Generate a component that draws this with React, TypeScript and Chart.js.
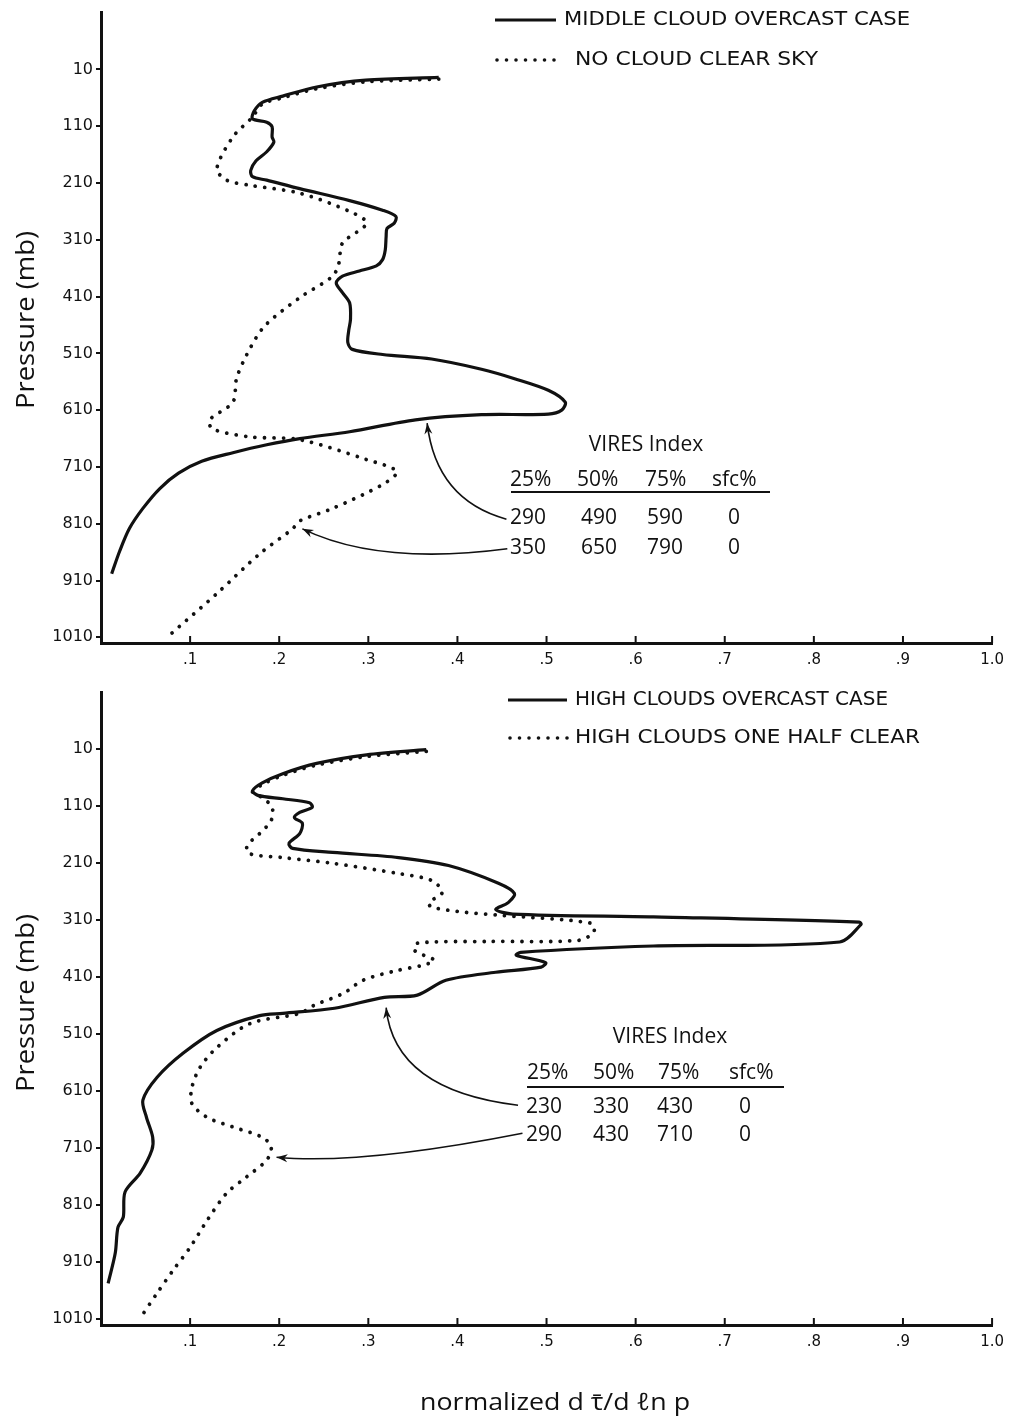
import React, { useEffect, useRef } from "react";
import { Chart, registerables } from "chart.js";
Chart.register(...registerables);

// ---------- data (x = normalized d tau / d ln p, p = pressure in mb) ----------
const pressureTicks = [10, 110, 210, 310, 410, 510, 610, 710, 810, 910, 1010];
const xTickValues = [0, 0.1, 0.2, 0.3, 0.4, 0.5, 0.6, 0.7, 0.8, 0.9, 1.0];

// Top panel – middle cloud overcast case (solid)
const topSolidX = [0.379,0.297,0.242,0.204,0.181,0.172,0.170,0.186,0.192,0.192,0.194,0.186,0.174,0.168,0.170,0.186,0.223,0.279,0.316,0.331,0.329,0.321,0.320,0.319,0.316,0.309,0.290,0.271,0.264,0.271,0.279,0.280,0.278,0.277,0.282,0.316,0.371,0.427,0.465,0.502,0.521,0.517,0.502,0.427,0.353,0.279,0.223,0.186,0.148,0.113,0.087,0.066,0.047,0.032,0.021,0.012];
const topSolidP = [24,29,41,57,68,83,97,103,111,129,138,155,171,188,199,205,220,241,258,269,281,290,304,328,345,356,365,374,386,403,421,450,470,491,503,512,520,538,555,575,596,610,617,618,627,648,660,671,685,700,721,748,783,818,858,898];

// Top panel – no cloud clear sky (dotted)
const topDotX = [0.379,0.297,0.242,0.204,0.181,0.170,0.148,0.130,0.141,0.167,0.223,0.279,0.298,0.271,0.267,0.260,0.223,0.183,0.163,0.152,0.148,0.122,0.125,0.167,0.223,0.298,0.332,0.316,0.260,0.223,0.215,0.178,0.130,0.077];
const topDotP = [27,32,44,60,71,94,129,185,205,214,228,260,281,316,351,374,412,463,514,555,596,627,643,657,662,697,718,741,783,805,819,863,933,1006];

// Bottom panel – high clouds overcast case (solid)
const botSolidX = [0.365,0.298,0.242,0.204,0.181,0.170,0.176,0.204,0.234,0.237,0.223,0.217,0.226,0.223,0.211,0.215,0.260,0.334,0.390,0.446,0.464,0.457,0.443,0.462,0.620,0.851,0.853,0.829,0.620,0.471,0.466,0.499,0.494,0.443,0.387,0.355,0.318,0.262,0.204,0.178,0.130,0.092,0.063,0.047,0.051,0.058,0.057,0.044,0.027,0.025,0.019,0.016,0.008];
const botSolidP = [12,21,36,54,70,84,92,98,105,113,122,131,141,159,176,185,192,201,215,246,264,280,292,300,305,314,318,349,356,367,372,385,393,402,416,442,446,465,474,478,504,544,586,626,656,691,714,754,787,831,849,894,947];

// Bottom panel – high clouds one half clear (dotted)
const botDotX = [0.365,0.298,0.242,0.204,0.181,0.170,0.181,0.192,0.191,0.178,0.164,0.166,0.204,0.260,0.334,0.371,0.383,0.368,0.371,0.409,0.446,0.550,0.553,0.536,0.434,0.355,0.352,0.374,0.360,0.332,0.294,0.272,0.239,0.223,0.167,0.130,0.111,0.102,0.102,0.119,0.148,0.181,0.191,0.186,0.163,0.141,0.119,0.100,0.081,0.063,0.044];
const botDotP = [15,24,39,57,73,87,96,113,136,159,180,194,201,211,229,241,262,280,288,297,302,316,332,346,348,351,364,381,390,399,416,439,460,474,492,534,569,604,632,656,673,691,708,731,761,789,837,884,924,964,1008];

const topLegend = ["MIDDLE CLOUD OVERCAST CASE", "NO CLOUD CLEAR SKY"];
const botLegend = ["HIGH CLOUDS OVERCAST CASE", "HIGH CLOUDS ONE HALF CLEAR"];
const viresTitle = "VIRES Index";
const viresHeader = ["25%", "50%", "75%", "sfc%"];
const topVires = [["290", "490", "590", "0"], ["350", "650", "790", "0"]];
const botVires = [["230", "330", "430", "0"], ["290", "430", "710", "0"]];
const yTitle = "Pressure (mb)";
const xTitle = "normalized d \u03C4\u0304/d \u2113n p";

// ---------- rendering ----------
const INK = "#111";
const zip = (xs: number[], ps: number[]) => xs.map((x, i) => ({ x, y: ps[i] }));

function fitText(ctx: CanvasRenderingContext2D, text: string, x: number, y: number, width: number, font: string, align: CanvasTextAlign = "left", rotate = 0) {
  ctx.save();
  ctx.font = font;
  const w = ctx.measureText(text).width;
  ctx.translate(x, y);
  if (rotate) ctx.rotate(rotate);
  ctx.scale(width / w, 1);
  ctx.textAlign = align;
  ctx.textBaseline = "middle";
  ctx.fillStyle = INK;
  ctx.fillText(text, 0, 0);
  ctx.restore();
}

function plainText(ctx: CanvasRenderingContext2D, text: string, x: number, y: number, font: string, align: CanvasTextAlign = "left") {
  ctx.save();
  ctx.font = font;
  ctx.textAlign = align;
  ctx.textBaseline = "middle";
  ctx.fillStyle = INK;
  ctx.fillText(text, x, y);
  ctx.restore();
}

type Arrow = { from: [number, number]; ctrl: [number, number]; to: [number, number] };

type Spec = {
  height: number;
  top: number;
  bottom: number;
  yMin: number;
  yMax: number;
  solid: { x: number; y: number }[];
  dotted: { x: number; y: number }[];
  legend: string[];
  legY: [number, number];
  legLine: [number, number];
  legTextX: [number, number];
  legTextW: [number, number];
  vires: string[][];
  tbl: { titleX: number; titleY: number; headY: number; cols: number[]; ulX: [number, number]; ulY: number; rowY: [number, number]; rowCols: number[] };
  arrows: Arrow[];
  yTitleY: number;
  xTitleY?: number;
};

const LEG_FONT = '19px "DejaVu Sans"';
const TBL_FONT = '21px "Open Sans"';

function drawArrow(ctx: CanvasRenderingContext2D, chart: any, a: Arrow) {
  const xs = chart.scales.x, ys = chart.scales.y;
  const sx = xs.getPixelForValue(a.from[0]), sy = ys.getPixelForValue(a.from[1]);
  const cx = xs.getPixelForValue(a.ctrl[0]), cy = ys.getPixelForValue(a.ctrl[1]);
  const ex = xs.getPixelForValue(a.to[0]), ey = ys.getPixelForValue(a.to[1]);
  ctx.save();
  ctx.strokeStyle = INK;
  ctx.fillStyle = INK;
  ctx.lineWidth = 1.6;
  ctx.beginPath();
  ctx.moveTo(sx, sy);
  ctx.quadraticCurveTo(cx, cy, ex, ey);
  ctx.stroke();
  const ang = Math.atan2(ey - cy, ex - cx);
  const L = 11, W = 4;
  const c = Math.cos(ang), s = Math.sin(ang);
  ctx.beginPath();
  ctx.moveTo(ex, ey);
  ctx.lineTo(ex - L * c + W * s, ey - L * s - W * c);
  ctx.lineTo(ex - L * c * 0.7, ey - L * s * 0.7);
  ctx.lineTo(ex - L * c - W * s, ey - L * s + W * c);
  ctx.closePath();
  ctx.fill();
  ctx.restore();
}

function makePlugin(spec: Spec) {
  return {
    id: "annot",
    afterDraw(chart: any) {
      const ctx: CanvasRenderingContext2D = chart.ctx;
      const area = chart.chartArea;
      const xs = chart.scales.x;
      // inward x ticks
      ctx.save();
      ctx.strokeStyle = INK;
      ctx.lineWidth = 2;
      xTickValues.forEach((v) => {
        if (v === 0) return;
        const px = xs.getPixelForValue(v);
        ctx.beginPath();
        ctx.moveTo(px, area.bottom);
        ctx.lineTo(px, area.bottom - 7);
        ctx.stroke();
      });
      ctx.restore();

      // legend
      ctx.save();
      ctx.strokeStyle = INK;
      ctx.lineWidth = 3;
      ctx.beginPath();
      ctx.moveTo(spec.legLine[0], spec.legY[0]);
      ctx.lineTo(spec.legLine[1], spec.legY[0]);
      ctx.stroke();
      ctx.fillStyle = INK;
      for (let x = spec.legLine[0] + 2; x <= spec.legLine[1]; x += 9.5) {
        ctx.beginPath();
        ctx.arc(x, spec.legY[1], 1.8, 0, Math.PI * 2);
        ctx.fill();
      }
      ctx.restore();
      fitText(ctx, spec.legend[0], spec.legTextX[0], spec.legY[0], spec.legTextW[0], LEG_FONT);
      fitText(ctx, spec.legend[1], spec.legTextX[1], spec.legY[1], spec.legTextW[1], LEG_FONT);

      // VIRES table
      const t = spec.tbl;
      plainText(ctx, viresTitle, t.titleX, t.titleY, TBL_FONT, "center");
      viresHeader.forEach((h, i) => plainText(ctx, h, t.cols[i], t.headY, TBL_FONT));
      ctx.save();
      ctx.strokeStyle = INK;
      ctx.lineWidth = 2;
      ctx.beginPath();
      ctx.moveTo(t.ulX[0], t.ulY);
      ctx.lineTo(t.ulX[1], t.ulY);
      ctx.stroke();
      ctx.restore();
      spec.vires.forEach((row, r) => row.forEach((v, i) => plainText(ctx, v, t.rowCols[i], t.rowY[r], TBL_FONT)));

      spec.arrows.forEach((a) => drawArrow(ctx, chart, a));

      // axis titles
      fitText(ctx, yTitle, 27, spec.yTitleY, 178, '25px "Open Sans"', "center", -Math.PI / 2);
      if (spec.xTitleY) fitText(ctx, xTitle, 555, spec.xTitleY, 270, '24px "Open Sans"', "center");
    },
  };
}

function Panel({ spec }: { spec: Spec }) {
  const ref = useRef<HTMLCanvasElement>(null);
  useEffect(() => {
    const chart = new Chart(ref.current as HTMLCanvasElement, {
      type: "scatter",
      data: {
        datasets: [
          { data: spec.solid, showLine: true, borderColor: INK, borderWidth: 3.2, pointRadius: 0, tension: 0.3, fill: false } as any,
          { data: spec.dotted, showLine: true, borderColor: INK, borderWidth: 3.8, borderDash: [0.01, 9.5], borderCapStyle: "round", pointRadius: 0, tension: 0.3, fill: false } as any,
        ],
      },
      options: {
        animation: false,
        responsive: true,
        maintainAspectRatio: false,
        events: [],
        layout: { padding: { left: 0, top: spec.top, right: 17, bottom: 0 } },
        plugins: { legend: { display: false }, tooltip: { enabled: false }, title: { display: false } },
        scales: {
          x: {
            type: "linear",
            min: 0,
            max: 1,
            afterBuildTicks: (s: any) => { s.ticks = xTickValues.map((v) => ({ value: v })); },
            afterFit: (s: any) => { s.height = spec.height - spec.bottom; },
            grid: { display: true, drawOnChartArea: false, drawTicks: false, color: INK },
            border: { display: true, color: INK, width: 3 },
            ticks: {
              padding: 8,
              color: INK,
              maxRotation: 0,
              autoSkip: false,
              font: { family: "DejaVu Sans", size: 15 },
              callback: (v: any) => { const n = Math.round(Number(v) * 10); return n === 0 ? "" : n === 10 ? "1.0" : "." + n; },
            },
          },
          y: {
            type: "linear",
            reverse: true,
            min: spec.yMin,
            max: spec.yMax,
            afterBuildTicks: (s: any) => { s.ticks = pressureTicks.map((v) => ({ value: v })); },
            afterFit: (s: any) => { s.width = 101; },
            grid: { display: true, drawOnChartArea: false, drawTicks: true, tickLength: 5, color: INK, lineWidth: 2 },
            border: { display: true, color: INK, width: 3 },
            ticks: { padding: 3, color: INK, autoSkip: false, font: { family: "DejaVu Sans", size: 16 }, callback: (v: any) => String(v) },
          },
        },
      } as any,
      plugins: [makePlugin(spec)],
    });
    return () => chart.destroy();
  }, []);
  return <canvas ref={ref} />;
}

const topSpec: Spec = {
  height: 680,
  top: 8,
  bottom: 643,
  yMin: -90,
  yMax: 1020,
  solid: zip(topSolidX, topSolidP),
  dotted: zip(topDotX, topDotP),
  legend: topLegend,
  legY: [20, 60],
  legLine: [495, 556],
  legTextX: [564, 575],
  legTextW: [346, 243],
  vires: topVires,
  tbl: { titleX: 646, titleY: 445, headY: 480, cols: [510, 577, 645, 712], ulX: [511, 770], ulY: 492, rowY: [518, 548], rowCols: [510, 581, 647, 728] },
  arrows: [
    { from: [0.455, 802], ctrl: [0.376, 768], to: [0.366, 633] },
    { from: [0.456, 854], ctrl: [0.312, 884], to: [0.226, 819] },
  ],
  yTitleY: 320,
};

const botSpec: Spec = {
  height: 745,
  top: 12,
  bottom: 645,
  yMin: -88,
  yMax: 1020,
  solid: zip(botSolidX, botSolidP),
  dotted: zip(botDotX, botDotP),
  legend: botLegend,
  legY: [20, 58],
  legLine: [508, 567],
  legTextX: [575, 575],
  legTextW: [313, 345],
  vires: botVires,
  tbl: { titleX: 670, titleY: 357, headY: 393, cols: [527, 593, 658, 729], ulX: [527, 784], ulY: 407, rowY: [427, 455], rowCols: [526, 593, 657, 739] },
  arrows: [
    { from: [0.468, 635], ctrl: [0.329, 609], to: [0.320, 464] },
    { from: [0.473, 684], ctrl: [0.291, 740], to: [0.197, 726] },
  ],
  yTitleY: 323,
  xTitleY: 723,
};

export default function App() {
  return (
    <div style={{ position: "absolute", left: 0, top: 0, width: 1012, height: 1425, background: "#fff" }}>
      <div style={{ position: "absolute", left: 0, top: 0, width: 1012, height: 680 }}>
        <Panel spec={topSpec} />
      </div>
      <div style={{ position: "absolute", left: 0, top: 680, width: 1012, height: 745 }}>
        <Panel spec={botSpec} />
      </div>
    </div>
  );
}
